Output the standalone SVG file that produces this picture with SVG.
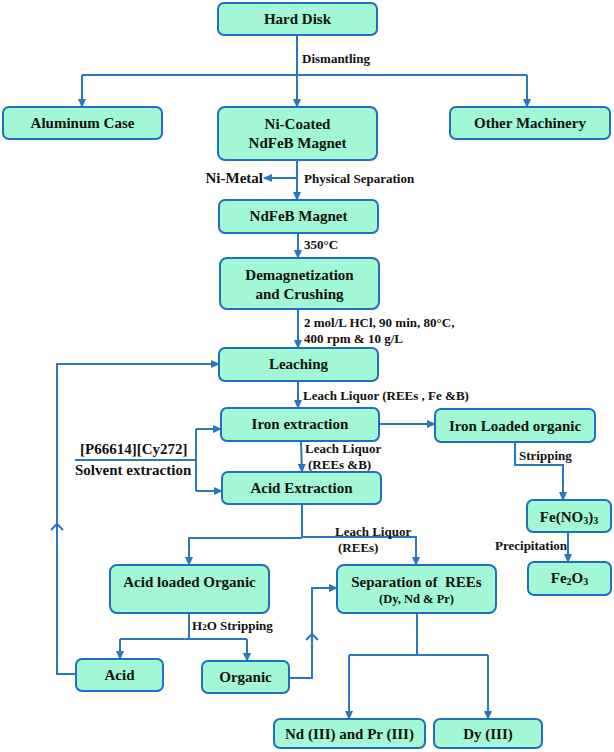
<svg xmlns="http://www.w3.org/2000/svg" width="614" height="752" viewBox="0 0 614 752">
<style>
.box{fill:#a2f8d4;stroke:#1f6fc0;stroke-width:2}
.t{font-family:"Liberation Serif","Times New Roman",serif;font-weight:bold;font-size:15px;fill:#111;text-anchor:middle;dominant-baseline:central}
.l{font-family:"Liberation Serif","Times New Roman",serif;font-weight:bold;font-size:13px;fill:#111;dominant-baseline:central}
.c{fill:none;stroke:#2a74c0;stroke-width:2}
.a{marker-end:url(#ah)}
</style>
<defs>
<marker id="ah" markerUnits="userSpaceOnUse" markerWidth="9" markerHeight="8" refX="8" refY="4" orient="auto">
<path d="M0,0 L9,4 L0,8 Z" fill="#2a74c0"/>
</marker>
</defs>
<rect width="614" height="752" fill="#fff"/>
<g id="connectors">
<path class="c a" d="M297,35 V107"/>
<path class="c" d="M82,75 H527"/>
<path class="c a" d="M82,75 V107"/>
<path class="c a" d="M527,75 V107"/>
<path class="c a" d="M297,160 V200"/>
<path class="c a" d="M297,178 H264"/>
<path class="c a" d="M298,233 V258"/>
<path class="c a" d="M298,309 V348"/>
<path class="c a" d="M298,381 V408"/>
<path class="c a" d="M379,424 H435"/>
<path class="c a" d="M301,441 L302,472"/>
<path class="c" d="M75,460 H196"/>
<path class="c" d="M196,429 V491"/>
<path class="c a" d="M196,429 H221"/>
<path class="c a" d="M196,491 H222"/>
<path class="c" d="M302,504 V538"/>
<path class="c a" d="M302,537 H416 V565"/>
<path class="c a" d="M302,538 H189 V565"/>
<path class="c a" d="M515,442 V465 H563 V500"/>
<path class="c a" d="M568,532 V562"/>
<path class="c" d="M189,613 V639"/>
<path class="c" d="M120,639 H247"/>
<path class="c a" d="M120,639 V659"/>
<path class="c a" d="M247,639 V661"/>
<path class="c a" d="M76,674 H57 V364 H219"/>
<polyline class="c" points="51,530 57,524 63,530"/>
<path class="c a" d="M289,678 H312 V588 H337"/>
<polyline class="c" points="306,640 312,634 318,640"/>
<path class="c" d="M417,613 V655"/>
<path class="c" d="M349,655 H488"/>
<path class="c a" d="M349,655 V719"/>
<path class="c a" d="M488,655 V719"/>
</g>
<g id="labels">
<text class="l" x="302" y="58">Dismantling</text>
<text class="l" x="304" y="178">Physical Separation</text>
<text class="t" x="263" y="178" style="text-anchor:end">Ni-Metal</text>
<text class="l" x="304" y="244">350°C</text>
<text class="l" x="304" y="322">2 mol/L HCl, 90 min, 80°C,</text>
<text class="l" x="304" y="338">400 rpm &amp; 10 g/L</text>
<text class="l" x="303" y="395">Leach Liquor (REEs , Fe &amp;B)</text>
<text class="l" x="305" y="448">Leach Liquor</text>
<text class="l" x="308" y="464">(REEs &amp;B)</text>
<text class="t" x="80" y="449" style="text-anchor:start">[P66614][Cy272]</text>
<text class="t" x="75" y="470" style="text-anchor:start">Solvent extraction</text>
<text class="l" x="335" y="531">Leach Liquor</text>
<text class="l" x="338" y="547">(REEs)</text>
<text class="l" x="519" y="455">Stripping</text>
<text class="l" x="495" y="545">Precipitation</text>
<text class="l" x="192" y="625">H<tspan font-size="9" dy="2">2</tspan><tspan dy="-2">O Stripping</tspan></text>
</g>
<g id="hard-disk"><rect class="box" x="218" y="3" width="159" height="32" rx="6"/><text class="t" x="297.5" y="19">Hard Disk</text></g>
<g id="aluminum-case"><rect class="box" x="3" y="107" width="159" height="32" rx="6"/><text class="t" x="82.5" y="123">Aluminum Case</text></g>
<g id="ni-coated"><rect class="box" x="218" y="107" width="159" height="53" rx="7"/><text class="t" x="297.5" y="124">Ni-Coated</text><text class="t" x="297.5" y="143">NdFeB Magnet</text></g>
<g id="other-machinery"><rect class="box" x="450" y="107" width="160" height="32" rx="6"/><text class="t" x="530" y="123">Other Machinery</text></g>
<g id="ndfeb-magnet"><rect class="box" x="219" y="200" width="159" height="33" rx="6"/><text class="t" x="298.5" y="216">NdFeB Magnet</text></g>
<g id="demagnetization"><rect class="box" x="220" y="258" width="159" height="51" rx="7"/><text class="t" x="299.5" y="275">Demagnetization</text><text class="t" x="299.5" y="294">and Crushing</text></g>
<g id="leaching"><rect class="box" x="219" y="348" width="159" height="33" rx="6"/><text class="t" x="298.5" y="364">Leaching</text></g>
<g id="iron-extraction"><rect class="box" x="221" y="408" width="158" height="33" rx="6"/><text class="t" x="300" y="424">Iron extraction</text></g>
<g id="iron-loaded-organic"><rect class="box" x="435" y="409" width="160" height="33" rx="6"/><text class="t" x="515" y="426">Iron Loaded organic</text></g>
<g id="acid-extraction"><rect class="box" x="222" y="472" width="159" height="32" rx="6"/><text class="t" x="301.5" y="488">Acid Extraction</text></g>
<g id="fe-nitrate"><rect class="box" x="527" y="500" width="84" height="32" rx="6"/><text class="t" x="569" y="517">Fe(NO<tspan font-size="10" dy="3">3</tspan><tspan dy="-3">)</tspan><tspan font-size="10" dy="3">3</tspan></text></g>
<g id="fe2o3"><rect class="box" x="528" y="562" width="83" height="33" rx="6"/><text class="t" x="569.5" y="578">Fe<tspan font-size="10" dy="3">2</tspan><tspan dy="-3">O</tspan><tspan font-size="10" dy="3">3</tspan></text></g>
<g id="acid-loaded-organic"><rect class="box" x="110" y="565" width="159" height="48" rx="7"/><text class="t" x="189.5" y="582">Acid loaded Organic</text></g>
<g id="separation"><rect class="box" x="337" y="565" width="159" height="48" rx="7"/><text class="t" x="416.5" y="582" style="white-space:pre">Separation of  REEs</text><text class="t" x="416.5" y="599" style="font-size:12.5px">(Dy, Nd &amp; Pr)</text></g>
<g id="acid"><rect class="box" x="76" y="659" width="87" height="32" rx="6"/><text class="t" x="119.5" y="675">Acid</text></g>
<g id="organic"><rect class="box" x="202" y="661" width="87" height="32" rx="6"/><text class="t" x="245.5" y="677">Organic</text></g>
<g id="nd-pr"><rect class="box" x="274" y="719" width="151" height="29" rx="6"/><text class="t" x="349.5" y="734">Nd (III) and Pr (III)</text></g>
<g id="dy"><rect class="box" x="434" y="719" width="108" height="29" rx="6"/><text class="t" x="488" y="734">Dy (III)</text></g>
</svg>
